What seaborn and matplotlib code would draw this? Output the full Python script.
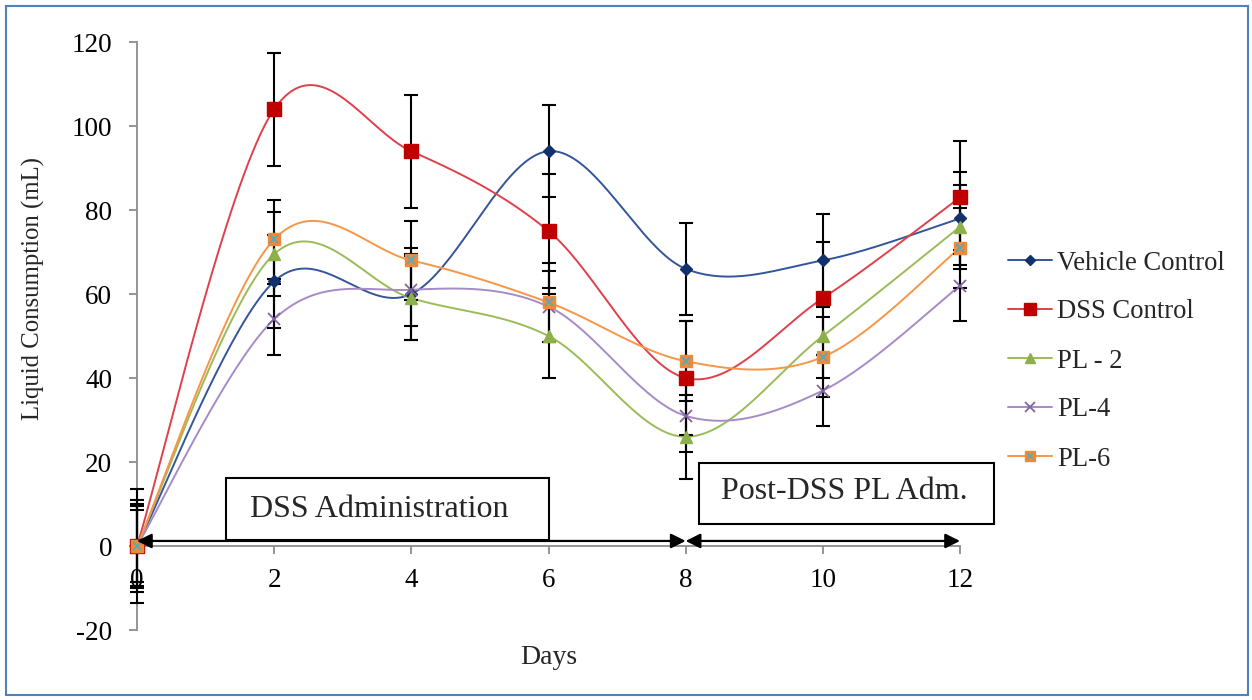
import numpy as np
import matplotlib.pyplot as plt
import seaborn as sns
from matplotlib.lines import Line2D
from matplotlib.patches import Rectangle

days = [0, 2, 4, 6, 8, 10, 12]

vehicle_control = [0, 63, 60, 94, 66, 68, 78]
dss_control = [0, 104, 94, 75, 40, 59, 83]
pl_2 = [0, 69.5, 59, 50, 26, 50, 76]
pl_4 = [0, 54, 61, 57, 31, 37, 62]
pl_6 = [0, 73, 68, 58, 44, 45, 71]

vehicle_err = [11, 11, 11, 11, 11, 11, 11]
dss_err = [13.5, 13.5, 13.5, 13.5, 13.5, 13.5, 13.5]
pl_2_err = [10, 10, 10, 10, 10, 10, 10]
pl_4_err = [8.5, 8.5, 8.5, 8.5, 8.5, 8.5, 8.5]
pl_6_err = [9.5, 9.5, 9.5, 9.5, 9.5, 9.5, 9.5]

series_names = ["Vehicle Control", "DSS Control", "PL - 2", "PL-4", "PL-6"]


def smooth_curve(x, y, n=40):
    # Excel style smoothed line (bezier through the points, 1/6 tangents)
    x = np.asarray(x, float)
    y = np.asarray(y, float)
    pts = np.column_stack([x, y])
    out = []
    for i in range(len(pts) - 1):
        p0 = pts[max(i - 1, 0)]
        p1 = pts[i]
        p2 = pts[i + 1]
        p3 = pts[min(i + 2, len(pts) - 1)]
        c1 = p1 + (p2 - p0) / 6
        c2 = p2 - (p3 - p1) / 6
        t = np.linspace(0, 1, n)[:, None]
        seg = ((1 - t) ** 3) * p1 + 3 * ((1 - t) ** 2) * t * c1 + 3 * (1 - t) * t ** 2 * c2 + t ** 3 * p2
        out.append(seg if i == 0 else seg[1:])
    out = np.vstack(out)
    return out[:, 0], out[:, 1]


sns.set_theme(style="white")
plt.rcParams["font.family"] = ["Liberation Serif", "DejaVu Serif"]
plt.rcParams["axes.unicode_minus"] = False

fig = plt.figure(figsize=(12.52, 7), dpi=100)
ax = fig.add_axes([137 / 1252, 1 - 630 / 700, (960 - 137) / 1252, (630 - 42) / 700])

styles = [
    # values, errors, line colour, marker, marker colour, marker size
    (vehicle_control, vehicle_err, "#34559A", "D", "#12306B", 6.5),
    (dss_control, dss_err, "#E0404A", "s", "#C00000", 9.5),
    (pl_2, pl_2_err, "#9BBB59", "^", "#8DB04A", 9),
    (pl_4, pl_4_err, "#A58BC8", "x", "#8064A2", 9),
    (pl_6, pl_6_err, "#F79646", "s", "#F08A3A", 8.5),
]

# smoothed lines
for vals, err, lc, mk, mc, ms in styles:
    sx, sy = smooth_curve(days, vals)
    sns.lineplot(x=sx, y=sy, ax=ax, color=lc, linewidth=1.4, sort=False, estimator=None, zorder=2)

# error bars + markers
for vals, err, lc, mk, mc, ms in styles:
    ax.errorbar(days, vals, yerr=err, fmt="none", ecolor="black", elinewidth=1.5,
                capsize=5, capthick=1.5, zorder=3, clip_on=False)
for vals, err, lc, mk, mc, ms in styles:
    if mk == "x":
        ax.plot(days, vals, linestyle="none", marker=mk, markersize=ms, color=mc,
                markeredgewidth=1.3, zorder=4, clip_on=False)
    else:
        ax.plot(days, vals, linestyle="none", marker=mk, markersize=ms, color=mc,
                markeredgecolor=mc, zorder=4, clip_on=False)
# cyan star pattern on the PL-6 squares
ax.plot(days, pl_6, linestyle="none", marker="x", markersize=6, color="#4BACC6",
        markeredgewidth=1.2, zorder=5, clip_on=False)

ax.set_xlim(0, 12)
ax.set_ylim(-20, 120)
ax.set_xticks(np.arange(0, 13, 2))
ax.set_yticks(np.arange(-20, 121, 20))

for side in ["top", "right"]:
    ax.spines[side].set_visible(False)
ax.spines["bottom"].set_position(("data", 0))
for side in ["left", "bottom"]:
    ax.spines[side].set_color("#8C8C8C")
    ax.spines[side].set_linewidth(1.3)
ax.tick_params(axis="both", which="major", direction="out", length=6, width=1.3,
               color="#8C8C8C", labelsize=19.5, labelcolor="black")
ax.tick_params(axis="x", pad=10)
ax.tick_params(axis="y", pad=12)
ax.tick_params(axis="both", bottom=True, left=True)

ax.set_ylabel("Liquid Consumption (mL)", fontsize=17.8)
ax.yaxis.set_label_coords(-0.112, 0.58)
ax.text(0.5, -0.046, "Days", transform=ax.transAxes, ha="center", va="center", fontsize=20)

# phase annotations
arrow_kw = dict(arrowstyle="<|-|>", color="black", lw=1.6, mutation_scale=22, shrinkA=0, shrinkB=0)
ax.annotate("", xy=(0, 1.2), xytext=(8, 1.2), arrowprops=arrow_kw, zorder=6)
ax.annotate("", xy=(8, 1.2), xytext=(12, 1.2), arrowprops=arrow_kw, zorder=6)

ax.add_patch(Rectangle((1.3, 1.4), 4.7, 14.8, facecolor="white", edgecolor="black", lw=1.5, zorder=6))
ax.text(3.53, 8.6, "DSS Administration", ha="center", va="center", fontsize=23, zorder=7)
ax.add_patch(Rectangle((8.19, 5.2), 4.31, 14.6, facecolor="white", edgecolor="black", lw=1.5,
                       zorder=6, clip_on=False))
ax.text(10.31, 12.9, "Post-DSS PL Adm.", ha="center", va="center", fontsize=23, zorder=7)

# legend
handles = []
for (vals, err, lc, mk, mc, ms), name in zip(styles, series_names):
    h = Line2D([], [], color=lc, linewidth=1.4, marker=mk, markersize=ms * 0.85, markerfacecolor=mc,
               markeredgecolor=mc, markeredgewidth=1.3 if mk == "x" else 1.0)
    if name == "PL-6":
        h = (h, Line2D([], [], linestyle="none", marker="x", markersize=5, color="#4BACC6", markeredgewidth=1.1))
    handles.append(h)
fig.legend(handles, series_names, loc="center left", bbox_to_anchor=(1008 / 1252, 1 - 361 / 700),
           frameon=False, fontsize=19.2, handlelength=1.65, handletextpad=0.2, labelspacing=0.9,
           borderpad=0, borderaxespad=0)

# blue border round the chart
fig.patches.append(Rectangle((6 / 1252, 5 / 700), 1242 / 1252, 689 / 700, transform=fig.transFigure,
                             fill=False, edgecolor="#4F81BD", linewidth=1.5))

fig.savefig("out.png", dpi=100)
plt.close(fig)
